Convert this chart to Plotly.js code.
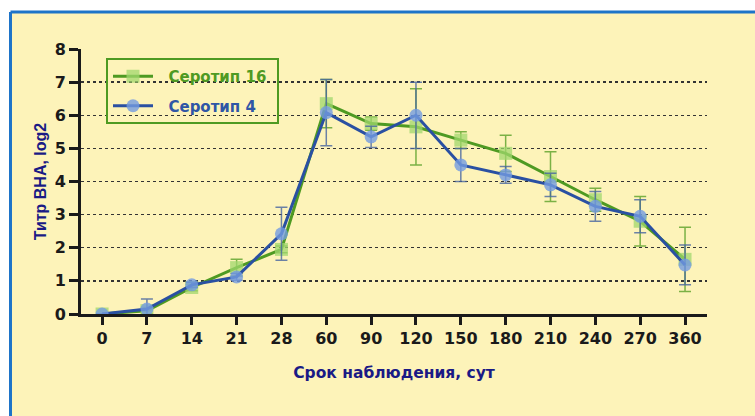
<!DOCTYPE html>
<html><head><meta charset="utf-8">
<script src="https://cdn.plot.ly/plotly-3.0.1.min.js"></script>
<style>html,body{margin:0;padding:0;background:#fff;}#chart{width:755px;height:416px;}</style>
</head><body><div id="chart"></div>
<script>
const days = ['0','7','14','21','28','60','90','120','150','180','210','240','270','360'];
const sero16 = [0, 0.1, 0.8, 1.4, 1.95, 6.35, 5.75, 5.65, 5.25, 4.85, 4.15, 3.45, 2.8, 1.65];
const sero16Err = [0, 0.1, 0.1, 0.25, 0.1, 0.73, 0.2, 1.15, 0.25, 0.55, 0.75, 0.35, 0.75, 0.97];
const sero4 = [0, 0.15, 0.88, 1.12, 2.42, 6.08, 5.35, 6.0, 4.5, 4.2, 3.9, 3.25, 2.95, 1.48];
const sero4Err = [0, 0.3, 0.08, 0.1, 0.8, 1.0, 0.32, 1.0, 0.5, 0.25, 0.35, 0.45, 0.5, 0.6];

const L = 81, R = 48, T = 49, B = 102, W = 755, H = 416;
const pw = W - L - R, ph = H - T - B;
const px = v => (v - L) / pw;
const py = v => (H - B - v) / ph;

const traces = [
  {x: days, y: sero16, name: '<span style="color:#4E9A22">\u00a0\u00a0Серотип 16\u00a0</span>', mode: 'lines+markers', type: 'scatter',
   legendgroup: 'a',
   line: {color: '#4E9A22', width: 3},
   marker: {symbol: 'square', size: 13, color: 'rgba(160,215,110,0.75)'},
   error_y: {type: 'data', array: sero16Err, visible: true, color: 'rgba(90,160,40,0.8)', thickness: 1.5, width: 6}},
  {x: days, y: sero4, name: '<span style="color:#2F56A6">\u00a0\u00a0Серотип 4</span>', mode: 'lines+markers', type: 'scatter',
   legendgroup: 'b',
   line: {color: '#2A50A2', width: 3},
   marker: {symbol: 'circle', size: 13, color: 'rgba(115,155,225,0.8)'},
   error_y: {type: 'data', array: sero4Err, visible: true, color: 'rgba(70,100,160,0.8)', thickness: 1.5, width: 6}}
];

const wide = 'DejaVu Sans, Verdana, sans-serif';
const tickFont = {family: wide, size: 16, color: '#1a1a1a', weight: 'bold'};
const layout = {
  width: W, height: H,
  margin: {l: L, r: R, t: T, b: B, pad: 0},
  paper_bgcolor: '#ffffff',
  plot_bgcolor: 'rgba(0,0,0,0)',
  showlegend: true,
  legend: {x: px(106), y: py(58), xanchor: 'left', yanchor: 'top',
    bgcolor: 'rgba(0,0,0,0)', bordercolor: '#4E9A22', borderwidth: 2,
    tracegroupgap: 7, itemwidth: 40,
    font: {family: wide, size: 15, weight: 'bold'}},
  xaxis: {type: 'category', range: [-0.47, 13.49], showgrid: false, zeroline: false,
    showline: true, linecolor: '#1a1a1a', linewidth: 3,
    ticks: 'outside', ticklen: 8, tickwidth: 3, tickcolor: '#1a1a1a',
    tickfont: tickFont,
    title: {text: 'Срок наблюдения, сут', standoff: 20,
      font: {family: wide, size: 15.5, color: '#1A1A85', weight: 'bold'}}},
  yaxis: {range: [0, 8], tickvals: [0,1,2,3,4,5,6,7,8], showgrid: true, gridcolor: '#333', griddash: 'dot', gridwidth: 1.3,
    zeroline: false, showline: true, linecolor: '#1a1a1a', linewidth: 3,
    ticks: 'outside', ticklen: 9, tickwidth: 3, tickcolor: '#1a1a1a',
    tickfont: tickFont,
    title: {text: 'Титр ВНА, log2', standoff: 5,
      font: {family: 'Liberation Sans, Arial, sans-serif', size: 16, color: '#1A1A85', weight: 'bold'}}},
  shapes: [
    {type: 'rect', xref: 'paper', yref: 'paper', x0: px(10.5), x1: px(760), y0: py(420), y1: py(12),
     fillcolor: '#FDF3B9', line: {width: 0}, layer: 'below'},
    {type: 'line', xref: 'paper', yref: 'paper', x0: px(10.5), x1: px(760), y0: py(12), y1: py(12),
     line: {color: '#1E74C8', width: 3}, layer: 'below'},
    {type: 'line', xref: 'paper', yref: 'paper', x0: px(10.5), x1: px(10.5), y0: py(420), y1: py(12),
     line: {color: '#1E74C8', width: 3}, layer: 'below'}
  ]
};
Plotly.newPlot('chart', traces, layout, {displayModeBar: false, staticPlot: true});
</script></body></html>
